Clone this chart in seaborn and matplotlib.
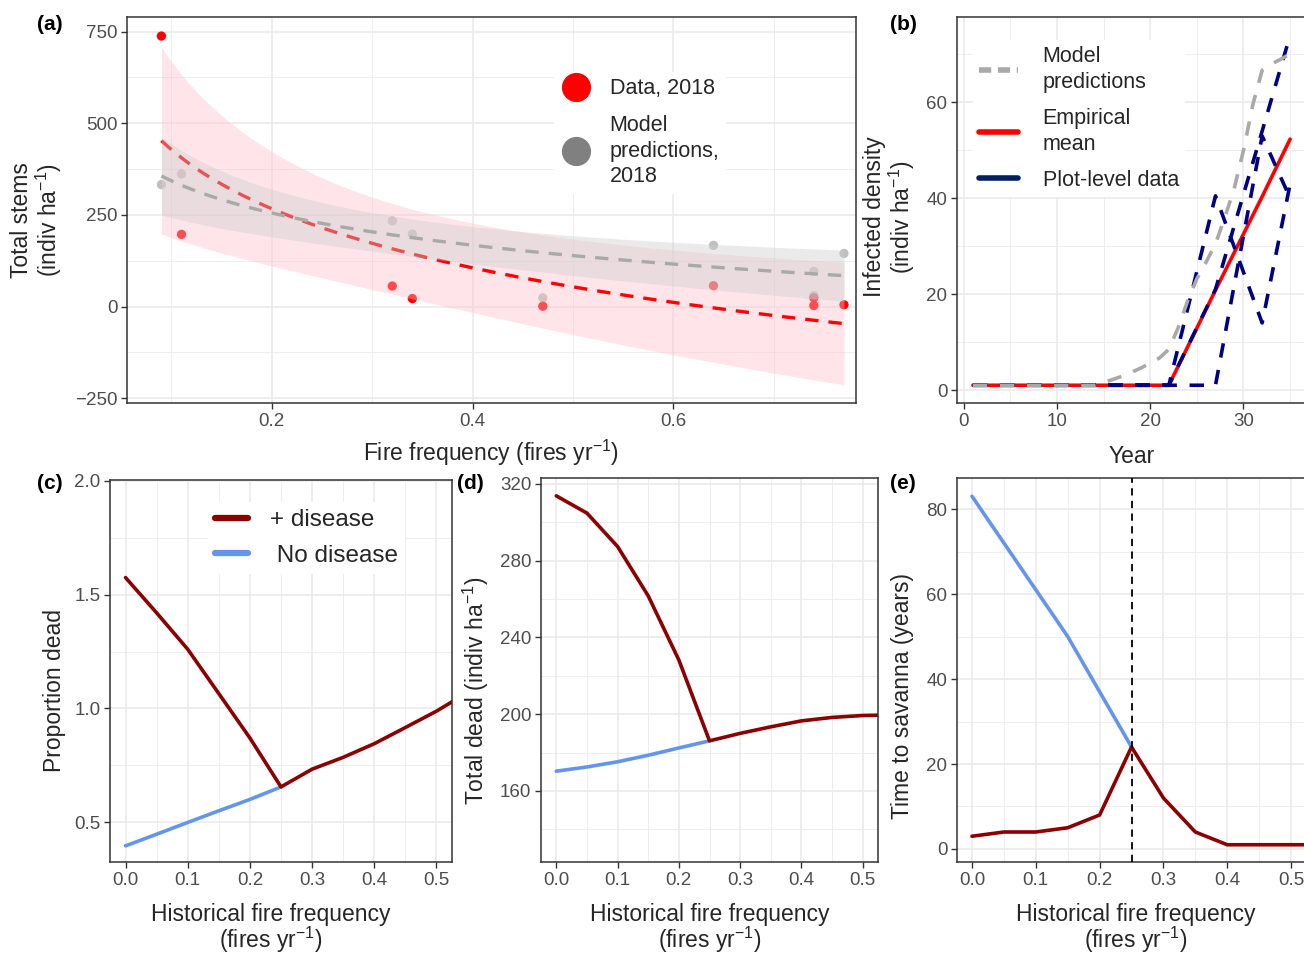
import numpy as np
import pandas as pd
import matplotlib
matplotlib.use("Agg")
import matplotlib.pyplot as plt
import seaborn as sns
from matplotlib.lines import Line2D
from matplotlib.ticker import MultipleLocator, FormatStrFormatter

# ---------------- data ----------------
# (a) total stems vs fire frequency
fire_freq = [0.09, 0.11, 0.32, 0.34, 0.47, 0.64, 0.74, 0.74, 0.77]
stems_data = [738, 197, 56, 22, 1, 57, 24, 3, 5]
stems_model = [333, 362, 234, 198, 24, 167, 96, 30, 145]

# (b) infected density through time
plot_years = [1, 22, 27, 32, 35]
plot_a = [1, 1, 40.5, 14, 43]
plot_b = [1, 1, 1, 53, 40]
plot_c = [1, 1, 21, 54, 74]
model_years = [1, 2, 3, 4, 5, 6, 7, 8, 9, 10, 11, 12, 13, 14, 15, 16, 17, 18,
               19, 20, 21, 22, 23, 24, 25, 26, 27, 28, 29, 30, 31, 32, 33, 34, 35]
model_infected = [1, 1, 1, 1, 1, 1, 1, 1, 1, 1, 1, 1, 1, 1, 1.6, 2.2, 2.9, 3.7,
                  4.6, 5.6, 6.7, 8.5, 13, 18.5, 23.2, 26.7, 30.5, 36, 42, 50,
                  59.5, 66.7, 68, 69, 70.1]

# (c)-(e) simulations along historical fire frequency
hist_freq = [0.0, 0.05, 0.1, 0.15, 0.2, 0.25, 0.3, 0.35, 0.4, 0.45, 0.5, 0.55]
hist_freq_nd = [0.0, 0.05, 0.1, 0.15, 0.2, 0.25]
prop_dead_disease = [1.575, 1.42, 1.26, 1.065, 0.87, 0.655, 0.733, 0.785, 0.845, 0.916, 0.988, 1.07]
prop_dead_nodisease = [0.396, 0.447, 0.499, 0.55, 0.60, 0.655]
total_dead_disease = [313.7, 304.7, 287.3, 261.6, 228.2, 186.1, 190.0, 193.4, 196.5, 198.3, 199.3, 199.6]
total_dead_nodisease = [170.3, 172.5, 175.2, 178.6, 182.4, 186.1]
time_disease = [3, 4, 4, 5, 8, 24, 12, 4, 1, 1, 1, 1]
time_nodisease = [83, 72, 61, 50, 37, 24]
threshold_freq = 0.25

# ---------------- style ----------------
sns.set_theme(style="white")
plt.rcParams['font.family'] = ['Liberation Sans', 'DejaVu Sans']
plt.rcParams['mathtext.fontset'] = 'custom'
plt.rcParams['mathtext.rm'] = 'Liberation Sans'
plt.rcParams['mathtext.it'] = 'Liberation Sans:italic'
plt.rcParams['mathtext.bf'] = 'Liberation Sans:bold'
plt.rcParams['axes.unicode_minus'] = True

TICK_FS = 13.5
TITLE_FS = 16.5
DARKRED = '#8B0000'
CBLUE = '#6495ED'
NAVY = '#000080'

fig = plt.figure(figsize=(13.04, 9.55), dpi=100)
W, H = 1304.0, 955.0


def add_ax(l, r, t, b):
    return fig.add_axes([l / W, 1 - b / H, (r - l) / W, (b - t) / H])


def style_ax(ax, xmaj, xmin, ymaj, ymin, xfmt=None, yfmt=None):
    ax.set_facecolor('white')
    ax.xaxis.set_major_locator(MultipleLocator(xmaj))
    ax.xaxis.set_minor_locator(MultipleLocator(xmin))
    ax.yaxis.set_major_locator(MultipleLocator(ymaj))
    ax.yaxis.set_minor_locator(MultipleLocator(ymin))
    if xfmt:
        ax.xaxis.set_major_formatter(FormatStrFormatter(xfmt))
    if yfmt:
        ax.yaxis.set_major_formatter(FormatStrFormatter(yfmt))
    ax.grid(which='minor', color='#EBEBEB', lw=0.6)
    ax.grid(which='major', color='#EBEBEB', lw=1.2)
    ax.set_axisbelow(True)
    ax.tick_params(which='major', length=4, width=1.0, color='#333333',
                   labelsize=TICK_FS, labelcolor='#4D4D4D', pad=3,
                   bottom=True, left=True)
    ax.tick_params(which='minor', length=0)
    for s in ax.spines.values():
        s.set_color('#333333')
        s.set_linewidth(1.1)


def log_fit(x, y, grid):
    x = np.asarray(x, float)
    y = np.asarray(y, float)
    lx = np.log(x)
    n = len(x)
    b, a = np.polyfit(lx, y, 1)
    pred = a + b * np.log(grid)
    resid = y - (a + b * lx)
    s = np.sqrt(np.sum(resid ** 2) / (n - 2))
    sxx = np.sum((lx - lx.mean()) ** 2)
    se = s * np.sqrt(1.0 / n + (np.log(grid) - lx.mean()) ** 2 / sxx)
    t = 2.3646  # t quantile 0.975, df = 7
    return pred, pred - t * se, pred + t * se


def make_legend(ax, handles, labels, x, y, fs, hl, htp, ls, lsp):
    leg = ax.legend(handles, labels, loc='upper left',
                    bbox_to_anchor=(x / W, 1 - y / H),
                    bbox_transform=fig.transFigure, frameon=True, fancybox=False,
                    facecolor='white', edgecolor='none', framealpha=1,
                    fontsize=fs, handlelength=hl, handletextpad=htp,
                    labelspacing=ls, borderpad=0.3)
    for t in leg.get_texts():
        t.set_linespacing(lsp)
    leg.set_zorder(10)
    return leg


# ---------------- (a) ----------------
axa = add_ax(127, 856, 17, 403)
style_ax(axa, 0.2, 0.1, 250, 125, xfmt='%.1f')
grid = np.linspace(min(fire_freq), max(fire_freq), 200)
df_a = pd.DataFrame({'freq': fire_freq, 'data': stems_data, 'model': stems_model})

sns.scatterplot(data=df_a, x='freq', y='data', ax=axa, color='#FF0000', s=45,
                edgecolor='none', zorder=2, legend=False)
sns.scatterplot(data=df_a, x='freq', y='model', ax=axa, color='#808080', s=45,
                alpha=0.5, edgecolor='none', zorder=2, legend=False)

p_r, lo_r, hi_r = log_fit(fire_freq, stems_data, grid)
p_g, lo_g, hi_g = log_fit(fire_freq, stems_model, grid)
axa.fill_between(grid, lo_r, hi_r, color='#FFC0CB', alpha=0.4, lw=0, zorder=3)
sns.lineplot(x=grid, y=p_r, ax=axa, color='#FF0000', lw=2.4, zorder=4)
axa.lines[-1].set_dashes((4, 3))
axa.fill_between(grid, lo_g, hi_g, color='#CCCCCC', alpha=0.4, lw=0, zorder=5)
sns.lineplot(x=grid, y=p_g, ax=axa, color='#A9A9A9', lw=2.4, zorder=6)
axa.lines[-1].set_dashes((4, 3))

axa.set_xlim(0.0557, 0.782)
axa.set_ylim(-263, 790)
axa.set_xlabel('Fire frequency (fires yr$^{-1}$)', fontsize=TITLE_FS, labelpad=6)
axa.set_ylabel('Total stems\n(indiv ha$^{-1}$)', fontsize=TITLE_FS, labelpad=8,
               linespacing=1.0)
axa.yaxis.label.set_y(0.474)

h_a = [Line2D([], [], marker='o', ls='none', color='#FF0000', markersize=20),
       Line2D([], [], marker='o', ls='none', color='#808080', markersize=20)]
make_legend(axa, h_a, ['Data, 2018', 'Model\npredictions,\n2018'],
            543, 61, 15.5, 1.5, 0.8, 0.72, 1.3)

# ---------------- (b) ----------------
axb = add_ax(957, 1306, 17, 403)
style_ax(axb, 10, 5, 20, 10)
df_plots = pd.DataFrame({
    'year': plot_years * 3,
    'infected': plot_a + plot_b + plot_c,
    'plot': ['A'] * 5 + ['B'] * 5 + ['C'] * 5,
})
df_mean = df_plots.groupby('year', as_index=False)['infected'].mean()
df_model = pd.DataFrame({'year': model_years, 'infected': model_infected})

sns.lineplot(data=df_mean, x='year', y='infected', ax=axb, color='#FF0000',
             lw=2.6, zorder=3)
n0 = len(axb.lines)
sns.lineplot(data=df_plots, x='year', y='infected', units='plot', estimator=None,
             ax=axb, color=NAVY, lw=2.6, zorder=4)
for ln in axb.lines[n0:]:
    ln.set_dashes((4, 3.5))
sns.lineplot(data=df_model, x='year', y='infected', ax=axb, color='#A9A9A9',
             lw=2.6, zorder=4)
axb.lines[-1].set_dashes((4, 3.5))

axb.set_xlim(-0.7, 36.7)
axb.set_ylim(-2.7, 77.8)
axb.set_xlabel('Year', fontsize=TITLE_FS, labelpad=11)
axb.set_ylabel('Infected density\n(indiv ha$^{-1}$)', fontsize=TITLE_FS,
               labelpad=7, linespacing=1.0)
axb.yaxis.label.set_y(0.482)
h_b = [Line2D([], [], color='#A9A9A9', lw=4, dashes=(2.2, 1.2)),
       Line2D([], [], color='#FF0000', lw=4),
       Line2D([], [], color='#002060', lw=4)]
make_legend(axb, h_b, ['Model\npredictions', 'Empirical\nmean', 'Plot-level data'],
            962, 29, 15.5, 1.8, 1.15, 0.7, 1.3)

# ---------------- (c) ----------------
df_sim = pd.DataFrame({'freq': hist_freq, 'prop': prop_dead_disease,
                       'total': total_dead_disease, 'time': time_disease})
df_nd = pd.DataFrame({'freq': hist_freq_nd, 'prop': prop_dead_nodisease,
                      'total': total_dead_nodisease, 'time': time_nodisease})

xlab_hist = 'Historical fire frequency\n(fires yr$^{-1}$)'
XL_PAD = 10.5
XL_LS = 0.95

axc = add_ax(110, 452, 480, 862)
style_ax(axc, 0.1, 0.05, 0.5, 0.25, xfmt='%.1f', yfmt='%.1f')
sns.lineplot(data=df_nd, x='freq', y='prop', ax=axc, color=CBLUE, lw=2.6)
sns.lineplot(data=df_sim, x='freq', y='prop', ax=axc, color=DARKRED, lw=2.6)
axc.set_xlim(-0.025, 0.525)
axc.set_ylim(0.325, 2.004)
axc.set_xlabel(xlab_hist, fontsize=TITLE_FS, labelpad=XL_PAD, linespacing=XL_LS)
axc.xaxis.label.set_x(0.471)
axc.set_ylabel('Proportion dead', fontsize=TITLE_FS, labelpad=6)
axc.yaxis.label.set_y(0.448)
h_c = [Line2D([], [], color=DARKRED, lw=4.5), Line2D([], [], color=CBLUE, lw=4.5)]
make_legend(axc, h_c, ['+ disease', ' No disease'], 196, 490, 17.5, 1.35, 0.9,
            0.55, 1.2)

# ---------------- (d) ----------------
axd = add_ax(541, 878, 478, 862)
style_ax(axd, 0.1, 0.05, 40, 20, xfmt='%.1f')
sns.lineplot(data=df_nd, x='freq', y='total', ax=axd, color=CBLUE, lw=2.6)
sns.lineplot(data=df_sim, x='freq', y='total', ax=axd, color=DARKRED, lw=2.6)
axd.set_xlim(-0.025, 0.525)
axd.set_ylim(123, 323)
axd.set_xlabel(xlab_hist, fontsize=TITLE_FS, labelpad=XL_PAD, linespacing=XL_LS)
axd.set_ylabel('Total dead (indiv ha$^{-1}$)', fontsize=TITLE_FS, labelpad=6)
axd.yaxis.label.set_y(0.445)

# ---------------- (e) ----------------
axe = add_ax(957, 1307, 478, 862)
style_ax(axe, 0.1, 0.05, 20, 10, xfmt='%.1f')
sns.lineplot(data=df_nd, x='freq', y='time', ax=axe, color=CBLUE, lw=2.6)
sns.lineplot(data=df_sim, x='freq', y='time', ax=axe, color=DARKRED, lw=2.6)
axe.axvline(threshold_freq, color='black', lw=1.3, dashes=(4, 3), zorder=5)
axe.set_xlim(-0.0235, 0.525)
axe.set_ylim(-3.06, 87.3)
axe.set_xlabel(xlab_hist, fontsize=TITLE_FS, labelpad=XL_PAD, linespacing=XL_LS)
axe.xaxis.label.set_x(0.511)
axe.set_ylabel('Time to savanna (years)', fontsize=TITLE_FS, labelpad=9)
axe.yaxis.label.set_y(0.432)

# ---------------- panel labels ----------------
for lab, (px, py) in {'(a)': (50, 25), '(b)': (903, 25), '(c)': (50, 483),
                      '(d)': (470, 483), '(e)': (903, 483)}.items():
    fig.text(px / W, 1 - py / H, lab, fontsize=15, fontweight='bold',
             ha='center', va='center', color='black')

fig.savefig('out.png', dpi=100)
